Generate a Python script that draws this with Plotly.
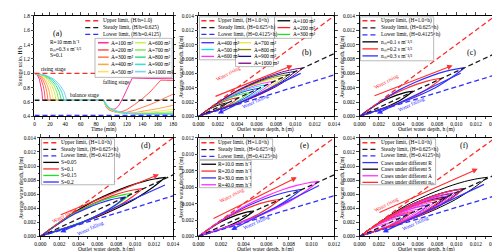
import plotly.graph_objects as go

W, H = 500, 251
FONT = "Liberation Serif"


def px(x):
    return x / W


def py(y):
    return 1 - y / H


# ---------------- data: panel (a) ----------------
AREAS = [100, 200, 300, 400, 500, 600, 700, 800, 900, 1000]
A_COLORS = ["#ff3399", "#ff5a5a", "#ff7f50", "#ffa64d", "#ffe066",
            "#c6ef5a", "#8fe85a", "#3fe08a", "#3fe0cf", "#7fcfff"]
RISE_T = [
    [0, 3.7, 6.3, 8.4, 9.7, 10.5],
    [0, 4.9, 8.4, 11.2, 12.9, 14.0],
    [0, 6.1, 10.5, 14.0, 16.1, 17.5],
    [0, 7.4, 12.6, 16.8, 19.3, 21.0],
    [0, 8.6, 14.7, 19.6, 22.5, 24.5],
    [0, 9.8, 16.8, 22.4, 25.8, 28.0],
    [0, 11.0, 18.9, 25.2, 29.0, 31.5],
    [0, 12.3, 21.0, 28.0, 32.2, 35.0],
    [0, 13.5, 23.1, 30.8, 35.4, 38.5],
    [0, 14.7, 25.2, 33.6, 38.6, 42.0],
]
RISE_R = [1.0, 0.975, 0.92, 0.83, 0.74, 0.625]
FALL_T = [
    [90, 93, 96, 100, 103, 106, 110, 115, 120, 125, 127, 140, 160, 180],
    [90, 93, 96, 100, 105, 110, 115, 120, 130, 140, 150, 160, 164, 170, 180],
    [90, 93, 96, 100, 105, 110, 115, 120, 130, 140, 150, 160, 170, 180],
    [90, 93, 96, 100, 105, 110, 115, 120, 130, 140, 150, 160, 170, 180],
    [90, 93, 96, 100, 105, 110, 115, 120, 130, 140, 150, 160, 170, 180],
    [90, 93, 96, 100, 105, 110, 115, 120, 130, 140, 150, 160, 170, 180],
    [90, 93, 96, 100, 105, 110, 115, 120, 130, 140, 150, 160, 170, 180],
    [90, 93, 96, 100, 105, 110, 115, 120, 130, 140, 150, 160, 170, 180],
    [90, 93, 96, 100, 105, 110, 115, 120, 130, 140, 150, 160, 170, 180],
    [90, 93, 96, 100, 105, 110, 115, 120, 130, 140, 150, 160, 170, 180],
]
FALL_R = [
    [0.625, 0.55, 0.52, 0.505, 0.50, 0.51, 0.56, 0.66, 0.78, 0.89, 0.935, 0.93, 0.928, 0.925],
    [0.625, 0.53, 0.495, 0.475, 0.463, 0.462, 0.472, 0.495, 0.565, 0.645, 0.74, 0.85, 0.905, 0.903, 0.90],
    [0.625, 0.535, 0.50, 0.478, 0.461, 0.453, 0.452, 0.458, 0.485, 0.52, 0.565, 0.61, 0.66, 0.71],
    [0.625, 0.54, 0.505, 0.482, 0.462, 0.451, 0.446, 0.445, 0.452, 0.468, 0.487, 0.508, 0.53, 0.555],
    [0.625, 0.545, 0.51, 0.486, 0.464, 0.452, 0.445, 0.441, 0.442, 0.45, 0.46, 0.472, 0.485, 0.50],
    [0.625, 0.55, 0.515, 0.49, 0.467, 0.454, 0.446, 0.441, 0.438, 0.441, 0.446, 0.452, 0.46, 0.468],
    [0.625, 0.555, 0.52, 0.493, 0.47, 0.457, 0.448, 0.442, 0.436, 0.436, 0.438, 0.441, 0.445, 0.45],
    [0.625, 0.56, 0.525, 0.497, 0.474, 0.46, 0.45, 0.443, 0.436, 0.433, 0.433, 0.434, 0.436, 0.438],
    [0.625, 0.565, 0.53, 0.50, 0.477, 0.462, 0.452, 0.445, 0.436, 0.432, 0.43, 0.43, 0.43, 0.43],
    [0.625, 0.57, 0.535, 0.505, 0.48, 0.465, 0.455, 0.447, 0.437, 0.432, 0.43, 0.428, 0.427, 0.426],
]

# reference limits H/h
REF_RATIOS = [1.0, 0.625, 0.4125]
REF_COLORS = ["#ff2a2a", "#1a1a1a", "#2f2fff"]
REF_LABELS_A = ["Upper limit, (H/h=1.0)",
                "Steady limit, (H/h=0.625)",
                "Lower limit, (H/h=0.4125)"]
REF_LABELS = ["Upper limit, (H=1.0×h)",
              "Steady limit, (H=0.625×h)",
              "Lower limit, (H=0.4125×h)"]

# ---------------- data: hysteresis loops ----------------
# loop shape: fraction of tip h, and H relative to tip H
UP_F = [0, 0.1, 0.25, 0.4, 0.55, 0.7, 0.82, 0.92, 1.0]
UP_G = [0, 0.157, 0.376, 0.568, 0.72, 0.848, 0.928, 0.976, 1.0]
LOW_F = [1.0, 0.9, 0.75, 0.6, 0.45, 0.3, 0.15, 0.05, 0]
LOW_G = [1.0, 0.832, 0.624, 0.464, 0.328, 0.216, 0.112, 0.045, 0]

# (b) different A
B_TIP_H = [0.0030, 0.0042, 0.0053, 0.0062, 0.0070, 0.0078, 0.0086, 0.0093, 0.0100, 0.0108]
B_TIP_HH = [0.00188, 0.00263, 0.00331, 0.00388, 0.00438, 0.00488, 0.00538, 0.00581, 0.00625, 0.00675]
B_COLORS = ["#000000", "#ff2020", "#20e020", "#3030ff", "#00e5ff",
            "#ff30ff", "#f0e040", "#8a8a00", "#101080", "#800080"]
B_LABELS = ["A=%d m²" % a for a in AREAS]

# (c) different n_m
C_TIP_H = [0.0055, 0.0085, 0.0108]
C_TIP_HH = [0.0035, 0.0053, 0.00675]
C_COLORS = ["#000000", "#ff3030", "#3030ff"]
C_LABELS = ["nₘ=0.1 s m⁻¹/³", "nₘ=0.2 s m⁻¹/³", "nₘ=0.3 s m⁻¹/³"]

# (d) different S
D_TIP_H = [0.0132, 0.0108, 0.0096, 0.0090]
D_TIP_HH = [0.0084, 0.0068, 0.0061, 0.0056]
D_COLORS = ["#000000", "#ff3030", "#20e020", "#3030ff"]
D_LABELS = ["S=0.05", "S=0.1", "S=0.15", "S=0.2"]

# (e) different R
E_TIP_H = [0.0049, 0.0072, 0.0091, 0.0106]
E_TIP_HH = [0.0031, 0.0045, 0.0057, 0.0067]
E_COLORS = ["#000000", "#ff3030", "#3030ff", "#ff30ff"]
E_LABELS = ["R=10.0 mm h⁻¹", "R=20.0 mm h⁻¹", "R=30.0 mm h⁻¹", "R=40.0 mm h⁻¹"]

# (f) all cases
F_LABELS = ["Cases under different R", "Cases under different S",
            "Cases under different A", "Cases under different nₘ"]
F_COLORS = ["#3030ff", "#000000", "#ff30ff", "#ff3030"]

# arrows: (tail h, tail H, head h, head H)
RISE_ARROWS = {2: (0.0016, 0.0027, 0.0097, 0.0071),
               3: (0.0014, 0.0028, 0.0096, 0.0071),
               4: (0.0020, 0.0030, 0.0125, 0.0088),
               5: (0.0012, 0.0021, 0.0087, 0.0072),
               6: (0.0019, 0.0033, 0.0122, 0.0096)}
FALL_ARROWS = {2: (0.0107, 0.0061, 0.0020, 0.0004),
               3: (0.0106, 0.0061, 0.0018, 0.0004),
               4: (0.0133, 0.0074, 0.0021, 0.0006),
               5: (0.0108, 0.0063, 0.0029, 0.0008),
               6: (0.0130, 0.0075, 0.0024, 0.0006)}

# ---------------- figure ----------------
fig = go.Figure()
shapes = []
annotations = []

# panel pixel boxes (left, right, top, bottom)
PANELS = {
    1: (21, 163, 5, 108),
    2: (189, 328, 5, 108),
    3: (354, 493, 5, 108),
    4: (27, 163, 130, 231),
    5: (189, 328, 130, 231),
    6: (354, 493, 130, 231),
}
XMAX = {2: 0.014, 3: 0.014, 4: 0.014, 5: 0.012, 6: 0.014}

axfont = dict(family=FONT, size=5.4, color="black")
layout_axes = {}
for i, (l, r, t, b) in PANELS.items():
    xa = dict(domain=[px(l), px(r)], anchor="y%d" % i, showline=True, linecolor="black",
              linewidth=0.8, mirror="ticks", ticks="outside", ticklen=2.5, tickwidth=0.7,
              tickfont=axfont, showgrid=False, zeroline=False)
    ya = dict(domain=[py(b), py(t)], anchor="x%d" % i, showline=True, linecolor="black",
              linewidth=0.8, mirror="ticks", ticks="outside", ticklen=2.5, tickwidth=0.7,
              tickfont=axfont, showgrid=False, zeroline=False)
    if i == 1:
        xa.update(range=[0, 180], dtick=20, tick0=0,
                  minor=dict(ticks="outside", ticklen=1.5, dtick=10, tickwidth=0.5))
        ya.update(range=[0.4, 1.8], dtick=0.2, tick0=0.4, tickformat=".1f",
                  minor=dict(ticks="outside", ticklen=1.5, dtick=0.1, tickwidth=0.5))
    else:
        xm = XMAX[i]
        xa.update(range=[0, xm], dtick=0.002, tick0=0, tickformat=".3f",
                  minor=dict(ticks="outside", ticklen=1.5, dtick=0.001, tickwidth=0.5))
        ya.update(range=[0, xm], dtick=0.002, tick0=0, tickformat=".3f",
                  minor=dict(ticks="outside", ticklen=1.5, dtick=0.001, tickwidth=0.5))
    layout_axes["xaxis" if i == 1 else "xaxis%d" % i] = xa
    layout_axes["yaxis" if i == 1 else "yaxis%d" % i] = ya


def axes(i):
    return ("x" if i == 1 else "x%d" % i), ("y" if i == 1 else "y%d" % i)


# ---- panel (a) curves
for k in range(len(AREAS)):
    xs = RISE_T[k] + FALL_T[k]
    ys = RISE_R + FALL_R[k]
    fig.add_trace(go.Scatter(x=xs, y=ys, mode="lines", xaxis="x", yaxis="y",
                             line=dict(color=A_COLORS[k], width=1.0), showlegend=False,
                             hoverinfo="skip"))
for r, c in zip(REF_RATIOS, REF_COLORS):
    fig.add_trace(go.Scatter(x=[0, 180], y=[r, r], mode="lines", xaxis="x", yaxis="y",
                             line=dict(color=c, width=1.3, dash="5px,3px"), showlegend=False,
                             hoverinfo="skip"))


def add_loop(i, hx, hy, color, width=1.0):
    xr, yr = axes(i)
    fig.add_trace(go.Scatter(x=[f * hx for f in UP_F], y=[g * hy for g in UP_G], mode="lines",
                             xaxis=xr, yaxis=yr, line=dict(color=color, width=width, shape="spline", smoothing=0.8),
                             showlegend=False, hoverinfo="skip"))
    fig.add_trace(go.Scatter(x=[f * hx for f in LOW_F], y=[g * hy for g in LOW_G], mode="lines",
                             xaxis=xr, yaxis=yr, line=dict(color=color, width=width, shape="spline", smoothing=0.8),
                             showlegend=False, hoverinfo="skip"))


for k in range(len(B_TIP_H)):
    add_loop(2, B_TIP_H[k], B_TIP_HH[k], B_COLORS[k])
for k in range(len(C_TIP_H)):
    add_loop(3, C_TIP_H[k], C_TIP_HH[k], C_COLORS[k], 1.2)
for k in range(len(D_TIP_H)):
    add_loop(4, D_TIP_H[k], D_TIP_HH[k], D_COLORS[k], 1.2)
for k in range(len(E_TIP_H)):
    add_loop(5, E_TIP_H[k], E_TIP_HH[k], E_COLORS[k], 1.2)
for k in range(len(E_TIP_H)):
    add_loop(6, E_TIP_H[k], E_TIP_HH[k], F_COLORS[0], 1.0)
for k in range(len(D_TIP_H)):
    add_loop(6, D_TIP_H[k], D_TIP_HH[k], F_COLORS[1], 1.0)
for k in range(len(B_TIP_H)):
    add_loop(6, B_TIP_H[k], B_TIP_HH[k], F_COLORS[2], 1.0)
for k in range(len(C_TIP_H)):
    add_loop(6, C_TIP_H[k], C_TIP_HH[k], F_COLORS[3], 1.0)

for i in range(2, 7):
    xr, yr = axes(i)
    xm = XMAX[i]
    for r, c in zip(REF_RATIOS, REF_COLORS):
        fig.add_trace(go.Scatter(x=[0, xm], y=[0, r * xm], mode="lines", xaxis=xr, yaxis=yr,
                                 line=dict(color=c, width=1.3, dash="5px,3px"), showlegend=False,
                                 hoverinfo="skip"))
    # arrows
    t = RISE_ARROWS[i]
    annotations.append(dict(x=t[2], y=t[3], ax=t[0], ay=t[1], xref=xr, yref=yr, axref=xr, ayref=yr,
                            text="", showarrow=True, arrowhead=2, arrowsize=0.9, arrowwidth=1.2,
                            arrowcolor="#ff3030"))
    t = FALL_ARROWS[i]
    annotations.append(dict(x=t[2], y=t[3], ax=t[0], ay=t[1], xref=xr, yref=yr, axref=xr, ayref=yr,
                            text="", showarrow=True, arrowhead=2, arrowsize=0.9, arrowwidth=1.2,
                            arrowcolor="#3030ff"))

# ---- legends (drawn manually)
LEG_FONT = 5.4


def box(x0, y0, x1, y1, border=True):
    shapes.append(dict(type="rect", xref="paper", yref="paper", x0=px(x0), x1=px(x1),
                       y0=py(y1), y1=py(y0),
                       line=dict(color="#8c8c8c" if border else "rgba(0,0,0,0)", width=0.6),
                       fillcolor="white", layer="above"))


def entry(x, y, length, text, color, dash="solid", width=1.3):
    shapes.append(dict(type="line", xref="paper", yref="paper", x0=px(x), x1=px(x + length),
                       y0=py(y), y1=py(y), line=dict(color=color, width=width, dash=dash)))
    annotations.append(dict(xref="paper", yref="paper", x=px(x + length + 1.5), y=py(y), text=text,
                            showarrow=False, xanchor="left", yanchor="middle", borderpad=0,
                            font=dict(family=FONT, size=LEG_FONT, color="black")))


def text(x, y, s, size=5.4, color="black", angle=0, anchor="left"):
    annotations.append(dict(xref="paper", yref="paper", x=px(x), y=py(y), text=s, showarrow=False,
                            xanchor=anchor, yanchor="middle", textangle=angle, borderpad=0,
                            font=dict(family=FONT, size=size, color=color)))


# (a)
box(70, 6, 162, 27, border=False)
for j in range(3):
    entry(73, 10 + 7 * j, 16, REF_LABELS_A[j], REF_COLORS[j], "5px,3px")
box(83, 28, 162, 68)
for k in range(10):
    col, row = divmod(k, 5)
    entry(86 + 38 * col, 32.5 + 7.4 * row, 11, B_LABELS[k], A_COLORS[k], width=1.6)

# (b)
box(190, 6, 267, 28)
for j in range(3):
    entry(192, 10 + 7 * j, 15, REF_LABELS[j], REF_COLORS[j], "5px,3px")
box(267, 6, 305, 28)
for k in range(3):
    entry(270, 10 + 7 * k, 13, B_LABELS[k], B_COLORS[k])
box(190, 28, 227, 50)
for k in range(3, 6):
    entry(192, 32.5 + 7 * (k - 3), 13, B_LABELS[k], B_COLORS[k])
box(227, 28, 266, 57)
for k in range(6, 10):
    entry(230, 32.5 + 7 * (k - 6), 13, B_LABELS[k], B_COLORS[k])

# (c)
box(355, 6, 430, 51)
for j in range(3):
    entry(357, 10 + 7.2 * j, 16, REF_LABELS[j], REF_COLORS[j], "5px,3px")
for k in range(3):
    entry(357, 31.6 + 7.2 * k, 16, C_LABELS[k], C_COLORS[k])

# (d)
box(28, 131, 103, 178)
for j in range(3):
    entry(30, 135 + 6.7 * j, 16, REF_LABELS[j], REF_COLORS[j], "5px,3px")
for k in range(4):
    entry(30, 155.1 + 6.7 * k, 16, D_LABELS[k], D_COLORS[k])

# (e)
box(190, 131, 265, 152)
for j in range(3):
    entry(192, 135 + 7 * j, 15, REF_LABELS[j], REF_COLORS[j], "5px,3px")
box(190, 153, 243, 181)
for k in range(4):
    entry(192, 157 + 7 * k, 15, E_LABELS[k], E_COLORS[k])

# (f)
box(355, 131, 432, 178)
for j in range(3):
    entry(357, 135 + 6.75 * j, 16, REF_LABELS[j], REF_COLORS[j], "5px,3px")
for k in range(4):
    entry(357, 155.3 + 6.75 * k, 16, F_LABELS[k], F_COLORS[k])

# ---- panel texts
text(45, 23, "(a)", size=8, anchor="center")
text(36, 32, "R=10 mm h⁻¹")
text(36, 38.5, "nₘ=0.3 s m⁻¹/³")
text(36, 45, "S=0.1")
text(40, 59, "rising stage", anchor="center")
text(72, 86, "balance stage", anchor="center")
text(105, 73, "falling stage", anchor="center")

text(300, 43, "(b)", size=8, anchor="center")
text(469, 43, "(c)", size=8, anchor="center")
text(135, 138, "(d)", size=8, anchor="center")
text(298, 138, "(e)", size=8, anchor="center")
text(461, 138, "(f)", size=8, anchor="center")

for (xr, yr_, xf, yf) in [(220, 64, 247, 92), (382, 72, 407, 95), (52, 209, 78, 222),
                          (223, 188, 248, 216), (382, 198, 411, 217)]:
    text(xr, yr_, "Water rising", color="#ff2020", angle=-28, anchor="center")
    text(xf, yf, "Water falling", color="#2020ff", angle=-25, anchor="center")

# ---- axis titles
XT = "Outlet water depth, h (m)"
YT = "Average water depth, H (m)"
text(92, 121, "Time (min)", size=5.6, anchor="center")
text(6, 56.5, "Storage ratio, H/h", size=5.6, angle=-90, anchor="center")
for (xc, yc, yx) in [(258, 121, 171), (423, 121, 336)]:
    text(xc, yc, XT, size=5.6, anchor="center")
    text(yx, 56.5, YT, size=5.6, angle=-90, anchor="center")
for (xc, yc, yx) in [(95, 244, 7), (258, 244, 171), (423, 244, 336)]:
    text(xc, yc, XT, size=5.6, anchor="center")
    text(yx, 180.5, YT, size=5.6, angle=-90, anchor="center")

fig.update_layout(width=W, height=H, margin=dict(l=0, r=0, t=0, b=0),
                  paper_bgcolor="white", plot_bgcolor="white", showlegend=False,
                  font=dict(family=FONT, size=5.4, color="black"),
                  shapes=shapes, annotations=annotations, **layout_axes)
fig.write_html("out.html")
